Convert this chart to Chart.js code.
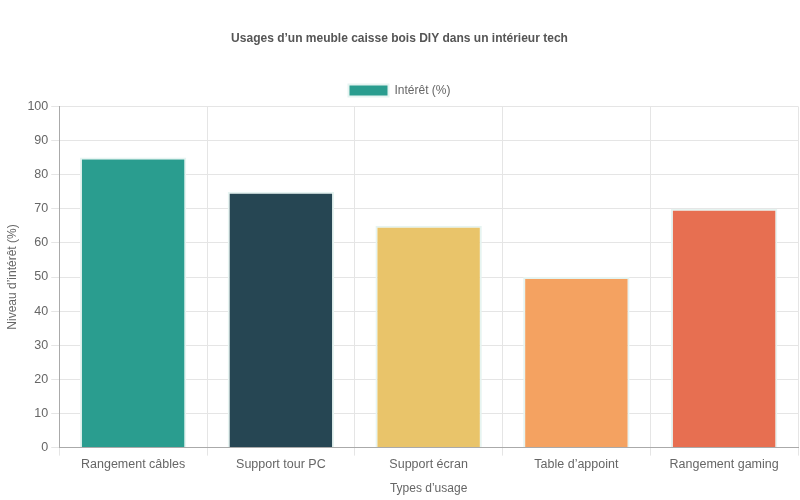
<!DOCTYPE html>
<html><head><meta charset="utf-8">
<script src="https://cdn.jsdelivr.net/npm/chart.js@4"></script>
<style>html,body{margin:0;padding:0;background:#fff}#w{width:800px;height:500px}</style>
</head><body><div id="w"><canvas id="c"></canvas></div>
<script>
const categories = ["Rangement câbles","Support tour PC","Support écran","Table d’appoint","Rangement gaming"];
const values = [85,75,65,50,70];
const colors = ["#2a9d8f","#264653","#e9c46a","#f4a261","#e76f51"];
Chart.defaults.font.family = "'Liberation Sans', Arial, sans-serif";
Chart.defaults.color = "#666";
new Chart(document.getElementById('c'), {
  type: 'bar',
  data: { labels: categories, datasets: [{ label: "Intérêt (%)", data: values, backgroundColor: colors, borderColor: "#e6f4f1", borderWidth: 2 }] },
  options: {
    responsive: true, maintainAspectRatio: false, animation: false,
    layout: { padding: { left: 1, right: 2, top: 21, bottom: 0 } },
    plugins: {
      title: { display: true, text: "Usages d’un meuble caisse bois DIY dans un intérieur tech", color: "#555", font: { size: 12, weight: 'bold' }, padding: { top: 10, bottom: 29 } },
      legend: { labels: { boxWidth: 40, boxHeight: 12, color: "#666", font: { size: 12 } } }
    },
    scales: {
      x: { title: { display: true, text: "Types d’usage", font: { size: 12 }, padding: { top: 9, bottom: 4 } }, grid: { color: "#e5e5e5" }, border: { color: "#aaa" }, ticks: { font: { size: 12.5 }, padding: 1 } },
      y: { min: 0, max: 100, ticks: { stepSize: 10, font: { size: 12.5 } }, title: { display: true, text: "Niveau d’intérêt (%)", font: { size: 12 }, padding: { top: 4, bottom: 5 } }, grid: { color: "#e5e5e5" }, border: { color: "#aaa" } }
    }
  }
});
</script></body></html>
